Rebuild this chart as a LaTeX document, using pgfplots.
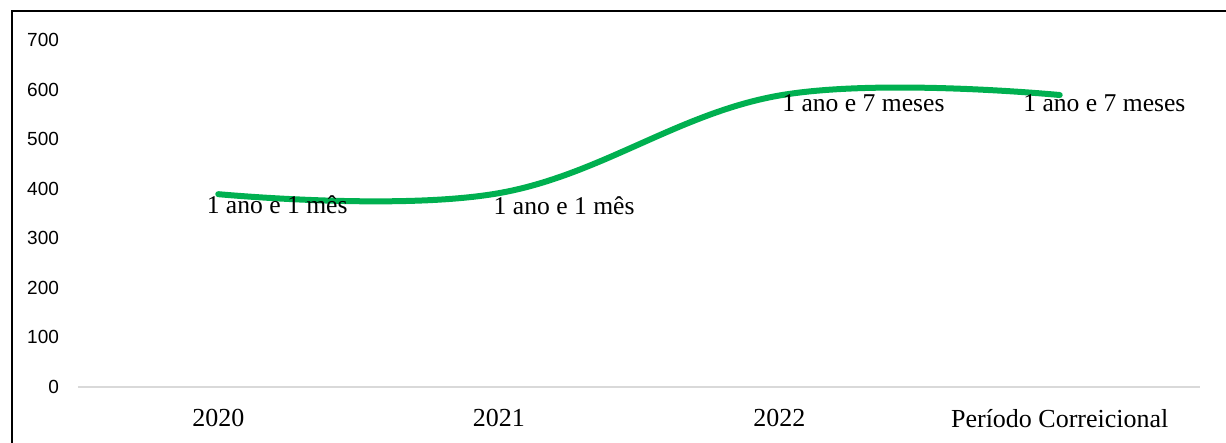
\documentclass[border=0pt]{standalone}
\usepackage{pgfplots}
\pgfplotsset{compat=1.18}
\usepackage{fontspec}
\setmainfont{Liberation Serif}
\newfontfamily\arial{Liberation Sans}
\definecolor{lgreen}{HTML}{00B050}
\definecolor{basegray}{HTML}{D9D9D9}
\begin{document}
\begin{tikzpicture}
\path[use as bounding box] (0,0) rectangle (613pt,221.5pt);
\begin{axis}[
  at={(39pt,28pt)}, anchor=south west,
  scale only axis, width=561pt, height=173.5pt,
  xmin=-0.5, xmax=3.5, ymin=0, ymax=700,
  axis x line=bottom, axis y line=left,
  y axis line style={draw=none},
  x axis line style={-, draw=basegray, line width=1pt},
  xtick={0,1,2,3},
  xticklabels={2020,2021,2022,Período Correicional},
  ytick={0,100,...,700},
  major tick length=0pt,
  clip=false,
  xticklabel style={font=\fontsize{13}{15}\selectfont, yshift=-7.5pt},
  yticklabel style={font=\arial\fontsize{9.5}{11}\selectfont, /pgf/number format/assume math mode=true, xshift=-6pt},
]
\addplot[lgreen, line width=3pt, smooth, tension=0.65, line cap=round] coordinates {(0,389) (1,391) (2,588) (3,589)};
\node[anchor=base, font=\fontsize{12.8}{15}\selectfont] at (axis cs:0.21,351) {1 ano e 1 mês};
\node[anchor=base, font=\fontsize{12.8}{15}\selectfont] at (axis cs:1.233,347) {1 ano e 1 mês};
\node[anchor=base, font=\fontsize{12.8}{15}\selectfont] at (axis cs:2.30,555) {1 ano e 7 meses};
\node[anchor=base, font=\fontsize{12.8}{15}\selectfont] at (axis cs:3.159,555) {1 ano e 7 meses};
\end{axis}
\draw[line width=1.4pt] (6pt,0) -- (6pt,216pt) -- (613pt,216pt);
\end{tikzpicture}
\end{document}
